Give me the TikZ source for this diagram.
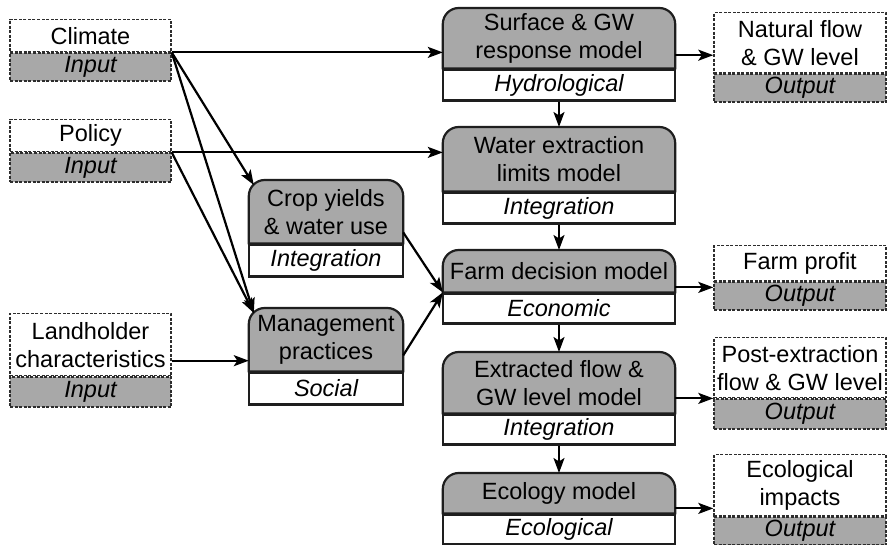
\documentclass[tikz,border=0pt]{standalone}
\usepackage{fontspec}
\setmainfont{Liberation Sans}
\usetikzlibrary{positioning,arrows.meta,backgrounds}
\definecolor{boxgray}{RGB}{168,168,168}
\definecolor{edgegray}{RGB}{30,30,30}
\definecolor{dashgray}{RGB}{45,45,45}

\begin{document}
\begin{tikzpicture}[x=1pt,y=1pt,
    font=\fontsize{23.5}{28}\selectfont,
    model/.style={inner sep=0pt,align=center,anchor=north,minimum width=232pt},
    side/.style={model,minimum width=154pt},
    kind/.style={draw=edgegray,line width=2.2pt,fill=white,inner sep=0pt,
      minimum width=232pt,minimum height=31pt,font=\fontsize{23.5}{28}\selectfont\itshape},
    sidekind/.style={kind,minimum width=154pt},
    io/.style={draw=dashgray,line width=1.4pt,dash pattern=on 3pt off 1.5pt,
      fill=white,inner sep=0pt,align=center,anchor=north},
    iokind/.style={io,fill=boxgray,minimum height=28pt,font=\fontsize{23.5}{28}\selectfont\itshape},
    link/.style={-{Stealth[length=15pt,width=11pt,inset=3.5pt]},line width=2.2pt,draw=black}]

    \useasboundingbox (0,0) rectangle (887,545);

    % Inputs
    \node[io,minimum width=161pt,minimum height=32pt] (clim) at (90.5,526) {Climate};
    \node[iokind,minimum width=161pt,below=0pt of clim] (climkind) {Input};
    \node[io,minimum width=161pt,minimum height=32pt] (pol) at (90.5,426) {Policy};
    \node[iokind,minimum width=161pt,minimum height=29pt,below=0pt of pol] (polkind) {Input};
    \node[io,minimum width=161pt,minimum height=62pt] (land) at (90.5,232) {Landholder\\characteristics};
    \node[iokind,minimum width=161pt,minimum height=30pt,below=0pt of land] (landkind) {Input};

    % Models
    \node[model,minimum height=60pt] (surf) at (559,537) {Surface \& GW\\response model};
    \node[kind,below=0pt of surf] (surfkind) {Hydrological};
    \node[model,minimum height=64pt] (limit) at (559,418) {Water extraction\\limits model};
    \node[kind,below=0pt of limit] (limitkind) {Integration};
    \node[model,minimum height=42pt] (farm) at (559,295) {Farm decision model};
    \node[kind,minimum height=30pt,below=0pt of farm] (farmkind) {Economic};
    \node[model,minimum height=61pt] (extr) at (559,193) {Extracted flow \&\\GW level model};
    \node[kind,minimum height=30pt,below=0pt of extr] (extrkind) {Integration};
    \node[model,minimum height=40pt] (eco) at (559,72) {Ecology model};
    \node[kind,minimum height=30pt,below=0pt of eco] (ecokind) {Ecological};
    \node[side,minimum height=63pt] (crop) at (326,365) {Crop yields\\\& water use};
    \node[sidekind,minimum height=32pt,below=0pt of crop] (cropkind) {Integration};
    \node[side,minimum height=63pt] (mgmt) at (326,237) {Management\\practices};
    \node[sidekind,minimum height=32pt,below=0pt of mgmt] (mgmtkind) {Social};

    % Outputs
    \node[io,minimum width=172pt,minimum height=60pt] (nat) at (800,533) {Natural flow\\\& GW level};
    \node[iokind,minimum width=172pt,below=0pt of nat] (natkind) {Output};
    \node[io,minimum width=172pt,minimum height=35pt] (prof) at (800,300) {Farm profit};
    \node[iokind,minimum width=172pt,below=0pt of prof] (profkind) {Output};
    \node[io,minimum width=172pt,minimum height=60pt] (post) at (800,208) {Post-extraction\\flow \& GW level};
    \node[iokind,minimum width=172pt,minimum height=30pt,below=0pt of post] (postkind) {Output};
    \node[io,minimum width=172pt,minimum height=61pt] (impact) at (800,91) {Ecological\\impacts};
    \node[iokind,minimum width=172pt,below=0pt of impact] (impactkind) {Output};

    % Grey heads with rounded top corners
    \begin{pgfonlayer}{background}
      \foreach \m in {surf,limit,farm,extr,eco,crop,mgmt}
        \draw[fill=boxgray,draw=edgegray,line width=2.2pt]
          (\m.south west) -- ([yshift=-16pt]\m.north west)
          arc[start angle=180,end angle=90,radius=16pt]
          -- ([xshift=-16pt]\m.north east)
          arc[start angle=90,end angle=0,radius=16pt]
          -- (\m.south east) -- cycle;
    \end{pgfonlayer}

    % Links
    \draw[link] (clim.south east) -- (clim.south east -| surf.west);
    \draw[link] (clim.south east) -- ([shift={(5pt,-5pt)}]crop.north west);
    \draw[link] (clim.south east) -- ([shift={(5pt,-5pt)}]mgmt.north west);
    \draw[link] (pol.south east) -- (pol.south east -| limit.west);
    \draw[link] (pol.south east) -- ([shift={(5pt,-5pt)}]mgmt.north west);
    \draw[link] ([yshift=-16pt]land.east) -- ([yshift=-16pt]land.east -| mgmt.west);
    \draw[link] ([yshift=11pt]crop.south east) -- (farm.south west);
    \draw[link] ([yshift=16pt]mgmt.south east) -- (farm.south west);
    \draw[link] (surfkind.south) -- (limit.north);
    \draw[link] (limitkind.south) -- (farm.north);
    \draw[link] (farmkind.south) -- (extr.north);
    \draw[link] (extrkind.south) -- (eco.north);
    \draw[link] ([yshift=-17pt]surf.east) -- ([yshift=-17pt]surf.east -| nat.west);
    \draw[link] ([yshift=5pt]farm.south east) -- ([yshift=5pt]farm.south east -| prof.west);
    \draw[link] ([yshift=15pt]extr.south east) -- ([yshift=15pt]extr.south east -| post.west);
    \draw[link] ([yshift=5pt]eco.south east) -- ([yshift=5pt]eco.south east -| impact.west);
\end{tikzpicture}
\end{document}
